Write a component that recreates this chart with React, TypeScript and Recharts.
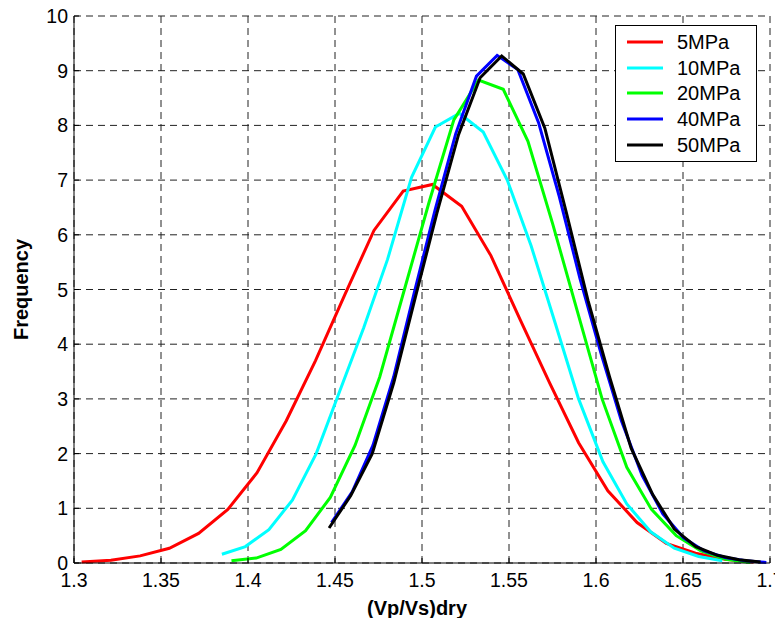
import React from 'react';
import { LineChart, Line, XAxis, YAxis, CartesianGrid, Legend } from 'recharts';

const FONT = '"Liberation Sans", Arial, Helvetica, sans-serif';

const xTicks = [1.3, 1.35, 1.4, 1.45, 1.5, 1.55, 1.6, 1.65, 1.7];
const yTicks = [0, 1, 2, 3, 4, 5, 6, 7, 8, 9, 10];

const x5 = [1.3044, 1.3212, 1.338, 1.3548, 1.3716, 1.3884, 1.4052, 1.422, 1.4388, 1.4556, 1.4724, 1.4892, 1.506, 1.5228, 1.5396, 1.5564, 1.5732, 1.59, 1.6068, 1.6236, 1.6404, 1.6572, 1.674, 1.6908];
const y5 = [0.02, 0.05, 0.13, 0.27, 0.54, 0.98, 1.65, 2.6, 3.7, 4.9, 6.08, 6.8, 6.92, 6.52, 5.62, 4.45, 3.3, 2.2, 1.32, 0.74, 0.36, 0.18, 0.07, 0.02];

const x10 = [1.385, 1.3985, 1.412, 1.4255, 1.4392, 1.4528, 1.4665, 1.4802, 1.494, 1.5077, 1.5215, 1.5352, 1.549, 1.5627, 1.5764, 1.59, 1.604, 1.6177, 1.6314, 1.645, 1.659, 1.6726];
const y10 = [0.16, 0.3, 0.61, 1.15, 2.0, 3.15, 4.3, 5.55, 7.05, 7.97, 8.22, 7.88, 7.0, 5.8, 4.4, 3.0, 1.85, 1.08, 0.57, 0.27, 0.12, 0.04];

const x20 = [1.3905, 1.4047, 1.4189, 1.4331, 1.4473, 1.4615, 1.4757, 1.4899, 1.5041, 1.5183, 1.5325, 1.5467, 1.5609, 1.5751, 1.5893, 1.6035, 1.6177, 1.6319, 1.6461, 1.6603, 1.6745, 1.6887];
const y20 = [0.04, 0.09, 0.25, 0.59, 1.2, 2.15, 3.4, 5.0, 6.6, 8.1, 8.83, 8.66, 7.71, 6.2, 4.6, 3.0, 1.75, 0.98, 0.5, 0.22, 0.07, 0.01];

const x40 = [1.448, 1.4599, 1.4718, 1.4837, 1.4956, 1.5075, 1.5194, 1.5313, 1.5432, 1.5551, 1.567, 1.5789, 1.5908, 1.6027, 1.6146, 1.6265, 1.6384, 1.6503, 1.6622, 1.6741, 1.686, 1.6979];
const y40 = [0.74, 1.3, 2.15, 3.4, 4.95, 6.45, 7.85, 8.9, 9.28, 9.02, 8.05, 6.7, 5.2, 3.85, 2.6, 1.6, 0.9, 0.46, 0.22, 0.1, 0.04, 0.01];

const x50 = [1.4466, 1.459, 1.4714, 1.4838, 1.4962, 1.5086, 1.521, 1.5334, 1.5458, 1.5582, 1.5706, 1.583, 1.5954, 1.6078, 1.6202, 1.6326, 1.645, 1.6574, 1.6698, 1.6822, 1.6946];
const y50 = [0.64, 1.23, 2.0, 3.3, 4.86, 6.4, 7.83, 8.87, 9.27, 8.94, 7.95, 6.4, 4.8, 3.4, 2.1, 1.25, 0.62, 0.3, 0.14, 0.06, 0.02];

const zip = (xs: number[], ys: number[]) => xs.map((x, i) => ({ x, y: ys[i] }));

const series = [
  { name: '5MPa', color: '#ff0000', data: zip(x5, y5) },
  { name: '10MPa', color: '#00ffff', data: zip(x10, y10) },
  { name: '20MPa', color: '#00ff00', data: zip(x20, y20) },
  { name: '40MPa', color: '#0000ff', data: zip(x40, y40) },
  { name: '50MPa', color: '#000000', data: zip(x50, y50) },
];

const XTick = (props: any) => {
  const { x, y, payload } = props;
  return (
    <g>
      <line x1={x} x2={x} y1={y - 10} y2={y - 15} stroke="#000" strokeWidth={1} />
      <text x={x} y={y} dy={14} textAnchor="middle" fontSize={19.5} fontFamily={FONT} fill="#000">
        {String(payload.value)}
      </text>
    </g>
  );
};

const YTick = (props: any) => {
  const { x, y, payload } = props;
  return (
    <g>
      <line x1={x + 6} x2={x + 11} y1={y} y2={y} stroke="#000" strokeWidth={1} />
      <text x={x} y={y} dy={7} textAnchor="end" fontSize={19.5} fontFamily={FONT} fill="#000">
        {String(payload.value)}
      </text>
    </g>
  );
};

const order = series.map((s) => s.name);

const renderLegend = (props: any) => {
  const payload = [...(props.payload || [])].sort(
    (a: any, b: any) => order.indexOf(a.value) - order.indexOf(b.value)
  );
  return (
    <div
      style={{
        width: 142,
        height: 137,
        boxSizing: 'border-box',
        border: '1px solid #000',
        background: '#fff',
        paddingTop: 3,
      }}
    >
      {payload.map((p: any, i: number) => (
        <div key={i} style={{ display: 'flex', alignItems: 'center', height: 25.8 }}>
          <svg width={36} height={4} style={{ marginLeft: 11, display: 'block' }}>
            <line x1={0} x2={36} y1={2} y2={2} stroke={p.color} strokeWidth={3} />
          </svg>
          <span style={{ marginLeft: 14, fontSize: 20, fontFamily: FONT, color: '#000', lineHeight: '20px' }}>
            {p.value}
          </span>
        </div>
      ))}
    </div>
  );
};

export default function App() {
  return (
    <div style={{ width: 783, height: 626, margin: -8, background: '#fff', overflow: 'hidden' }}>
      <LineChart width={783} height={626} margin={{ top: 16, right: 13, bottom: 0, left: 0 }}>
        <CartesianGrid stroke="#222" strokeDasharray="7 5" strokeWidth={1} />
        <XAxis
          dataKey="x"
          type="number"
          domain={[1.3, 1.7]}
          ticks={xTicks}
          interval={0}
          height={63}
          tickSize={0}
          tickMargin={10}
          tickLine={false}
          axisLine={{ stroke: '#000', strokeWidth: 1 }}
          tick={<XTick />}
          label={{
            value: '(Vp/Vs)dry',
            position: 'insideBottom',
            offset: 11,
            dx: -5,
            style: { fontWeight: 'bold', fontSize: 20, fontFamily: FONT, fill: '#000' },
          }}
        />
        <XAxis
          xAxisId="top"
          orientation="top"
          type="number"
          domain={[1.3, 1.7]}
          ticks={xTicks}
          interval={0}
          height={0}
          mirror
          tick={false}
          tickSize={5}
          tickLine={{ stroke: '#000' }}
          axisLine={{ stroke: '#000', strokeWidth: 1 }}
        />
        <YAxis
          type="number"
          domain={[0, 10]}
          ticks={yTicks}
          interval={0}
          width={74}
          tickSize={0}
          tickMargin={6}
          tickLine={false}
          axisLine={{ stroke: '#000', strokeWidth: 1 }}
          tick={<YTick />}
          label={{
            value: 'Frequency',
            angle: -90,
            position: 'insideLeft',
            offset: 21,
            style: { textAnchor: 'middle', fontWeight: 'bold', fontSize: 20, fontFamily: FONT, fill: '#000' },
          }}
        />
        <YAxis
          yAxisId="right"
          orientation="right"
          type="number"
          domain={[0, 10]}
          ticks={yTicks}
          interval={0}
          width={0}
          mirror
          tick={false}
          tickSize={5}
          tickLine={{ stroke: '#000' }}
          axisLine={{ stroke: '#000', strokeWidth: 1 }}
        />
        <Legend
          layout="horizontal"
          verticalAlign="middle"
          align="center"
          content={renderLegend}
          wrapperStyle={{ position: 'absolute', left: 615, top: 25, width: 142, height: 137 }}
        />
        {series.map((s) => (
          <Line
            key={s.name}
            name={s.name}
            data={s.data}
            dataKey="y"
            type="linear"
            stroke={s.color}
            strokeWidth={3}
            dot={false}
            activeDot={false}
            isAnimationActive={false}
          />
        ))}
      </LineChart>
    </div>
  );
}
